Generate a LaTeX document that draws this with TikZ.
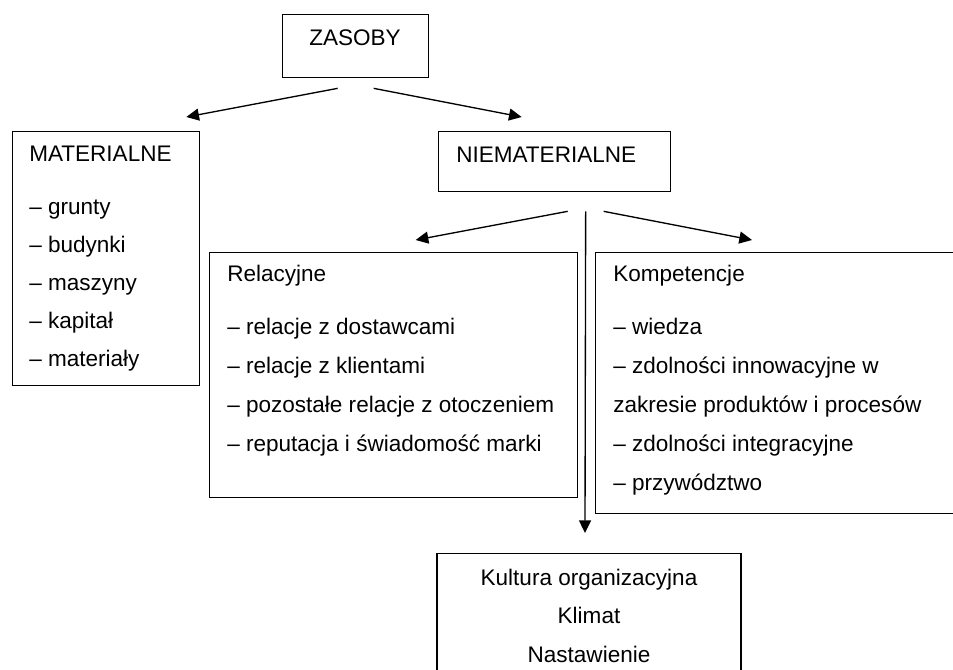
\documentclass[tikz,border=0pt]{standalone}
\usepackage{fontspec}
\setmainfont{Liberation Sans}
\usetikzlibrary{arrows.meta,calc}

\tikzset{
  box/.style={draw, line width=1pt, anchor=north west, inner sep=0pt},
  txt/.style={anchor=base west, inner sep=0pt, font=\fontsize{16.9pt}{20pt}\selectfont},
  arr/.style={-{Triangle[length=9.5pt,width=9pt]}, line width=1pt}
}

\begin{document}
\begin{tikzpicture}[x=0.75pt,y=-0.75pt]
  \path[use as bounding box, clip] (0,0) rectangle (953,669);

  % boxes
  \node[box, minimum width=109.5pt, minimum height=47.25pt] (zasoby) at (282,14) {};
  \node[box, minimum width=140.25pt, minimum height=190.5pt] (mat) at (12,131) {};
  \node[box, minimum width=174pt, minimum height=45pt] (niemat) at (438,131) {};
  \node[box, minimum width=276pt, minimum height=183.75pt] (rel) at (209,252) {};
  \node[box, minimum width=303.75pt, minimum height=195.75pt] (komp) at (595,252) {};
  \node[box, minimum width=228pt, minimum height=112.5pt, anchor=north] (kult) at (589,553) {};

  % texts
  \node[txt] (zasobyt) at ($(zasoby.north west)+(27,31)$) {ZASOBY};
  \node[txt] (matt) at ($(mat.north west)+(17,30)$) {MATERIALNE};
  \foreach \t [count=\k from 0] in {grunty, budynki, maszyny, kapitał, materiały}
    \node[txt] (mat\k) at ($(mat.north west)+(17,83+38*\k)$) {– \t};
  \node[txt] (niematt) at ($(niemat.north west)+(18,31)$) {NIEMATERIALNE};

  \node[txt] (relt) at ($(rel.north west)+(18,29)$) {Relacyjne};
  \foreach \t [count=\k from 0] in {relacje z dostawcami, relacje z klientami,
      pozostałe relacje z otoczeniem, reputacja i świadomość marki}
    \node[txt] (rel\k) at ($(rel.north west)+(18,82+39*\k)$) {– \t};

  \node[txt] (kompt) at ($(komp.north west)+(18,29)$) {Kompetencje};
  \foreach \t [count=\k from 0] in {– wiedza, – zdolności innowacyjne w,
      zakresie produktów i procesów, – zdolności integracyjne, – przywództwo}
    \node[txt] (komp\k) at ($(komp.north west)+(18,82+39*\k)$) {\t};

  \foreach \t [count=\k from 0] in {Kultura organizacyjna, Klimat, Nastawienie}
    \node[txt, anchor=base] (kult\k) at ($(kult.north)+(0,32+38.5*\k)$) {\t};

  % arrows
  \draw[arr] ($(zasoby.south)+(-18,10)$) -- ($(mat.north east)+(-14,-14)$);
  \draw[arr] ($(zasoby.south)+(18,10)$) -- ($(niemat.north)+(-33,-14)$);
  \draw[arr] ($(niemat.south)+(13,19)$) -- ($(rel.north)+(22,-12)$);
  \draw[arr] ($(niemat.south)+(49,19)$) -- ($(komp.north west)+(157,-12)$);
  \draw[arr] ($(niemat.south)+(31,19)$) -- ($(kult.north)+(-4,-20)$);
\end{tikzpicture}
\end{document}
